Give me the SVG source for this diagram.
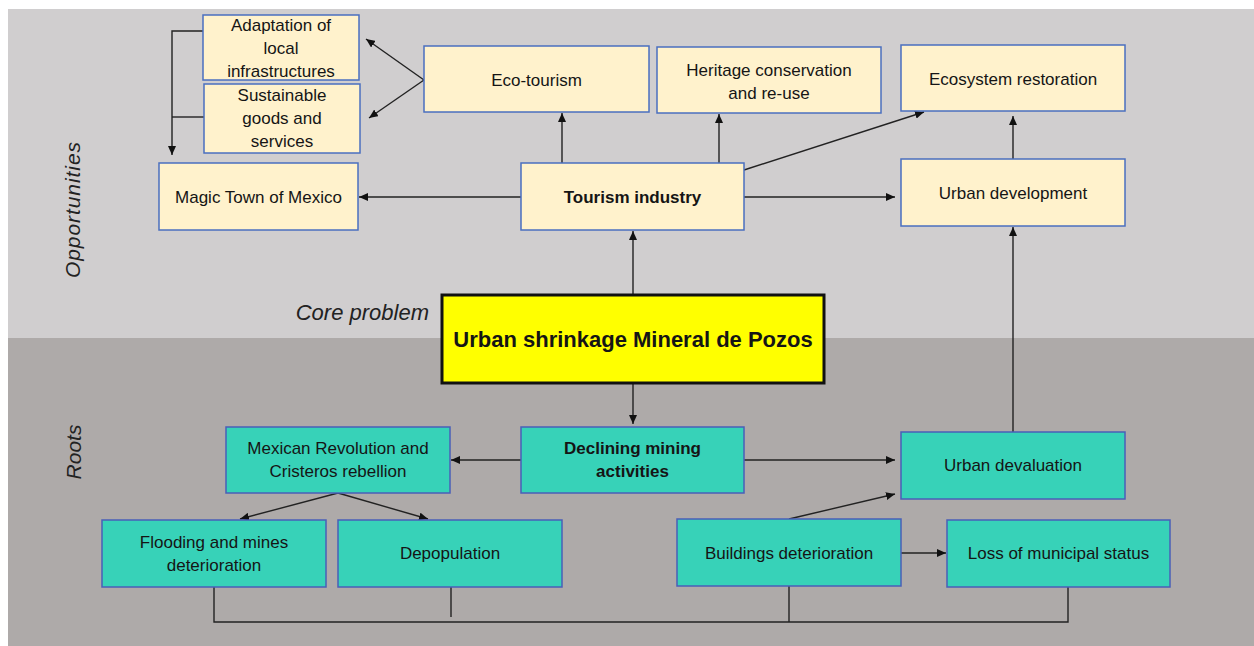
<svg xmlns="http://www.w3.org/2000/svg" width="1254" height="646" viewBox="0 0 1254 646">
<style>
.t{font-family:"Liberation Sans",Arial,sans-serif;font-size:17px;fill:#151515;text-anchor:middle}
.b{font-weight:bold}
.op{fill:#fff2cc;stroke:#4a6fc0;stroke-width:1.5}
.rt{fill:#37d2b8;stroke:#4a5fb8;stroke-width:1.5}
.c{fill:none;stroke:#222;stroke-width:1.4}
.lbl{font-family:"Liberation Sans",Arial,sans-serif;font-style:italic;fill:#222}
</style>
<defs>
<marker id="a" markerUnits="userSpaceOnUse" markerWidth="9" markerHeight="8" refX="9" refY="4" orient="auto">
<path d="M0,0 L9,4 L0,8 z" fill="#111"/>
</marker>
</defs>
<rect x="0" y="0" width="1254" height="646" fill="#ffffff"/>
<rect x="8" y="9" width="1246" height="330" fill="#d0cecf"/>
<rect x="8" y="338" width="1246" height="308" fill="#aeaaa9"/>

<text class="lbl" font-size="21" transform="translate(80,210) rotate(-90)" text-anchor="middle" textLength="136" lengthAdjust="spacing">Opportunities</text>
<text class="lbl" font-size="21" transform="translate(81,452) rotate(-90)" text-anchor="middle">Roots</text>
<text class="lbl" font-size="22" x="429" y="320" text-anchor="end">Core problem</text>

<g id="connectors">
<path class="c" d="M203,31 H172 V155" marker-end="url(#a)"/>
<path class="c" d="M204,117 H172"/>
<path class="c" d="M424,80 L366,39" marker-end="url(#a)"/>
<path class="c" d="M424,80 L369,118" marker-end="url(#a)"/>
<path class="c" d="M521,197 H359" marker-end="url(#a)"/>
<path class="c" d="M562,163 V113" marker-end="url(#a)"/>
<path class="c" d="M719,163 V114" marker-end="url(#a)"/>
<path class="c" d="M744,170 L924,112" marker-end="url(#a)"/>
<path class="c" d="M744,197 H895" marker-end="url(#a)"/>
<path class="c" d="M1013,159 V116" marker-end="url(#a)"/>
<path class="c" d="M633,295 V231" marker-end="url(#a)"/>
<path class="c" d="M633,383 V424" marker-end="url(#a)"/>
<path class="c" d="M521,460 H451" marker-end="url(#a)"/>
<path class="c" d="M744,460 H895" marker-end="url(#a)"/>
<path class="c" d="M1013,432 V227" marker-end="url(#a)"/>
<path class="c" d="M338,493 L240,519" marker-end="url(#a)"/>
<path class="c" d="M338,493 L428,519" marker-end="url(#a)"/>
<path class="c" d="M789,519 L895,494" marker-end="url(#a)"/>
<path class="c" d="M901,553 H946" marker-end="url(#a)"/>
<path class="c" d="M214,587 V622 H1068 V587"/>
<path class="c" d="M451,587 V617"/>
<path class="c" d="M789,586 V622"/>
</g>

<g id="adaptation">
<rect class="op" x="203" y="15" width="156" height="65"/>
<text class="t" x="281" y="31">Adaptation of</text>
<text class="t" x="281" y="54">local</text>
<text class="t" x="281" y="77">infrastructures</text>
</g>
<g id="sustainable">
<rect class="op" x="204" y="84" width="156" height="69"/>
<text class="t" x="282" y="101">Sustainable</text>
<text class="t" x="282" y="124">goods and</text>
<text class="t" x="282" y="147">services</text>
</g>
<g id="magic-town">
<rect class="op" x="159" y="163" width="199" height="67"/>
<text class="t" x="258.5" y="203">Magic Town of Mexico</text>
</g>
<g id="eco-tourism">
<rect class="op" x="424" y="46" width="225" height="66"/>
<text class="t" x="536.5" y="86">Eco-tourism</text>
</g>
<g id="heritage">
<rect class="op" x="657" y="47" width="224" height="66"/>
<text class="t" x="769" y="76">Heritage conservation</text>
<text class="t" x="769" y="99">and re-use</text>
</g>
<g id="tourism-industry">
<rect class="op" x="521" y="163" width="223" height="67"/>
<text class="t b" x="632.5" y="203">Tourism industry</text>
</g>
<g id="ecosystem">
<rect class="op" x="901" y="45" width="224" height="66"/>
<text class="t" x="1013" y="85">Ecosystem restoration</text>
</g>
<g id="urban-development">
<rect class="op" x="901" y="159" width="224" height="67"/>
<text class="t" x="1013" y="199">Urban development</text>
</g>

<g id="core-problem">
<rect x="442" y="295" width="382" height="88" fill="#ffff00" stroke="#111" stroke-width="3"/>
<text class="t b" x="633" y="347" style="font-size:22px">Urban shrinkage Mineral de Pozos</text>
</g>

<g id="mexican-revolution">
<rect class="rt" x="226" y="427" width="224" height="66"/>
<text class="t" x="338" y="454">Mexican Revolution and</text>
<text class="t" x="338" y="477">Cristeros rebellion</text>
</g>
<g id="declining-mining">
<rect class="rt" x="521" y="427" width="223" height="66"/>
<text class="t b" x="632.5" y="454">Declining mining</text>
<text class="t b" x="632.5" y="477">activities</text>
</g>
<g id="urban-devaluation">
<rect class="rt" x="901" y="432" width="224" height="67"/>
<text class="t" x="1013" y="471">Urban devaluation</text>
</g>
<g id="flooding">
<rect class="rt" x="102" y="520" width="224" height="67"/>
<text class="t" x="214" y="548">Flooding and mines</text>
<text class="t" x="214" y="571">deterioration</text>
</g>
<g id="depopulation">
<rect class="rt" x="338" y="520" width="224" height="67"/>
<text class="t" x="450" y="559">Depopulation</text>
</g>
<g id="buildings">
<rect class="rt" x="677" y="519" width="224" height="67"/>
<text class="t" x="789" y="559">Buildings deterioration</text>
</g>
<g id="municipal-status">
<rect class="rt" x="947" y="520" width="223" height="67"/>
<text class="t" x="1058.5" y="559">Loss of municipal status</text>
</g>
</svg>
